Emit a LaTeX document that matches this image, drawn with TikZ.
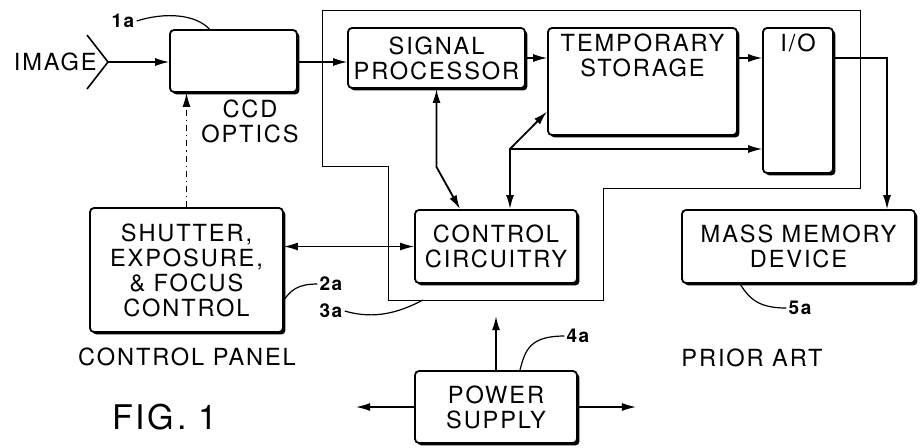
\documentclass[tikz,border=0pt]{standalone}
\usepackage{fontspec}
\setmainfont{TeX Gyre Heros}[LetterSpace=8]
\usetikzlibrary{arrows.meta,shadows}
\newcommand{\boxfont}{\fontsize{11.8}{12.5}\selectfont}
\newcommand{\reffont}{\fontsize{9.5}{11}\selectfont\bfseries}

\tikzset{
  blk/.style={draw, line width=0.9pt, rounded corners=2pt, fill=white,
    drop shadow={shadow xshift=1.2pt, shadow yshift=-1.2pt, opacity=1, fill=black},
    align=center, font=\boxfont, inner sep=0pt},
  arr/.style={-{Latex[length=7pt,width=4pt]}, line width=0.6pt},
  biarr/.style={{Latex[length=7pt,width=4pt]}-{Latex[length=7pt,width=4pt]}, line width=0.9pt},
  lead/.style={line width=0.6pt},
  refnum/.style={font=\reffont, inner sep=1pt},
  caption/.style={font=\boxfont, align=center, inner sep=0pt}
}

\begin{document}
\begin{tikzpicture}[x=0.5pt,y=-0.5pt]
\useasboundingbox (0,0) rectangle (920,447);

% camera housing
\draw[line width=0.5pt] (322,10) -- (860,10) -- (860,188) -- (603,188) -- (603,300)
  -- (388,300) -- (388,166) -- (322,166) -- cycle;

% blocks
\node[blk, minimum width=63.5pt, minimum height=31pt] (ccd) at (233.5,61) {};
\node[blk, minimum width=88.5pt, minimum height=30pt] (sigproc) at (436.5,58) {SIGNAL\\PROCESSOR};
\node[blk, minimum width=94.5pt, minimum height=53.5pt,
  label={[anchor=north, align=center, font=\boxfont]north:TEMPORARY\\STORAGE}] (tempstore) at (642.5,81.5) {};
\node[blk, minimum width=35pt, minimum height=72.5pt,
  label={[anchor=north, font=\boxfont]north:I/O}] (io) at (798,100.5) {};
\node[blk, minimum width=116.5pt, minimum height=36.5pt] (massmem) at (798.5,246.5) {MASS MEMORY\\DEVICE};
\node[blk, minimum width=81pt, minimum height=36.5pt] (ctrl) at (496,246.5) {CONTROL\\CIRCUITRY};
\node[blk, minimum width=96.5pt, minimum height=62pt] (shutter) at (186.5,270) {SHUTTER,\\EXPOSURE,\\\& FOCUS\\CONTROL};
\node[blk, minimum width=81pt, minimum height=36pt] (power) at (496,407) {POWER\\SUPPLY};

% captions
\node[caption] (ccdtxt) at (250,121) {CCD\\OPTICS};
\node[caption] (paneltxt) at (187,357) {CONTROL PANEL};
\node[caption] (priortxt) at (752,358) {PRIOR ART};
\node[caption, font=\fontsize{17}{20}\selectfont] (figtxt) at (165,417) {FIG. 1};

% image input
\node[caption, anchor=east] (imgtxt) at (97,62) {IMAGE};
\coordinate (imgtip) at (108,62);
\draw[line width=0.8pt] (87,35) -- (imgtip) -- (87,89);
\draw[arr] (imgtip) -- (ccd.west |- imgtip);

% data path
\draw[arr] (ccd.east |- imgtip) -- (sigproc.west |- imgtip);
\draw[arr] (sigproc.east) -- (sigproc.east -| tempstore.west);
\draw[arr] (tempstore.east |- sigproc.east) -- (io.west |- sigproc.east);
\draw[arr] (io.east |- sigproc.east) -| ([xshift=44.25pt]massmem.north);

% control lines
\draw[arr, dash dot] (shutter.north) -- (shutter.north |- ccd.south);
\draw[biarr, line width=0.6pt] (ctrl.west -| shutter.east) -- (ctrl.west);
\draw[biarr] (sigproc.south) -- (436.5,167) -- ([xshift=-18pt]ctrl.north);
\coordinate (jct) at (510,149);
\draw[biarr] ([xshift=7pt]ctrl.north) -- (jct) -- ([yshift=-15pt]tempstore.west);
\draw[arr] (jct) -- (jct -| io.west);

% power
\draw[arr, line width=0.8pt] (power.north) -- ++(0,-54);
\draw[arr] (power.west) -- ++(-58,0);
\draw[arr] (power.east) -- ++(58,0);

% reference numerals
\node[refnum] (lbl1a) at (123,21) {1a};
\draw[lead] (lbl1a.east) .. controls (165,12) and (195,14) .. ([xshift=-12pt]ccd.north);
\node[refnum] (lbl2a) at (331,284) {2a};
\draw[lead] ([yshift=-15pt]shutter.east) .. controls (291,290) and (298,284) .. (lbl2a.west);
\node[refnum] (lbl3a) at (331,311) {3a};
\coordinate (hsg3a) at (423,300);
\draw[lead] (lbl3a.east) .. controls (375,320) and (400,312) .. (hsg3a);
\node[refnum] (lbl4a) at (578,336) {4a};
\draw[lead] ([xshift=12pt]power.north) .. controls (525,350) and (530,336) .. (lbl4a.west);
\node[refnum] (lbl5a) at (800,308) {5a};
\draw[lead] ([xshift=-29.25pt]massmem.south) .. controls (750,300) and (760,308) .. (lbl5a.west);
\end{tikzpicture}
\end{document}
